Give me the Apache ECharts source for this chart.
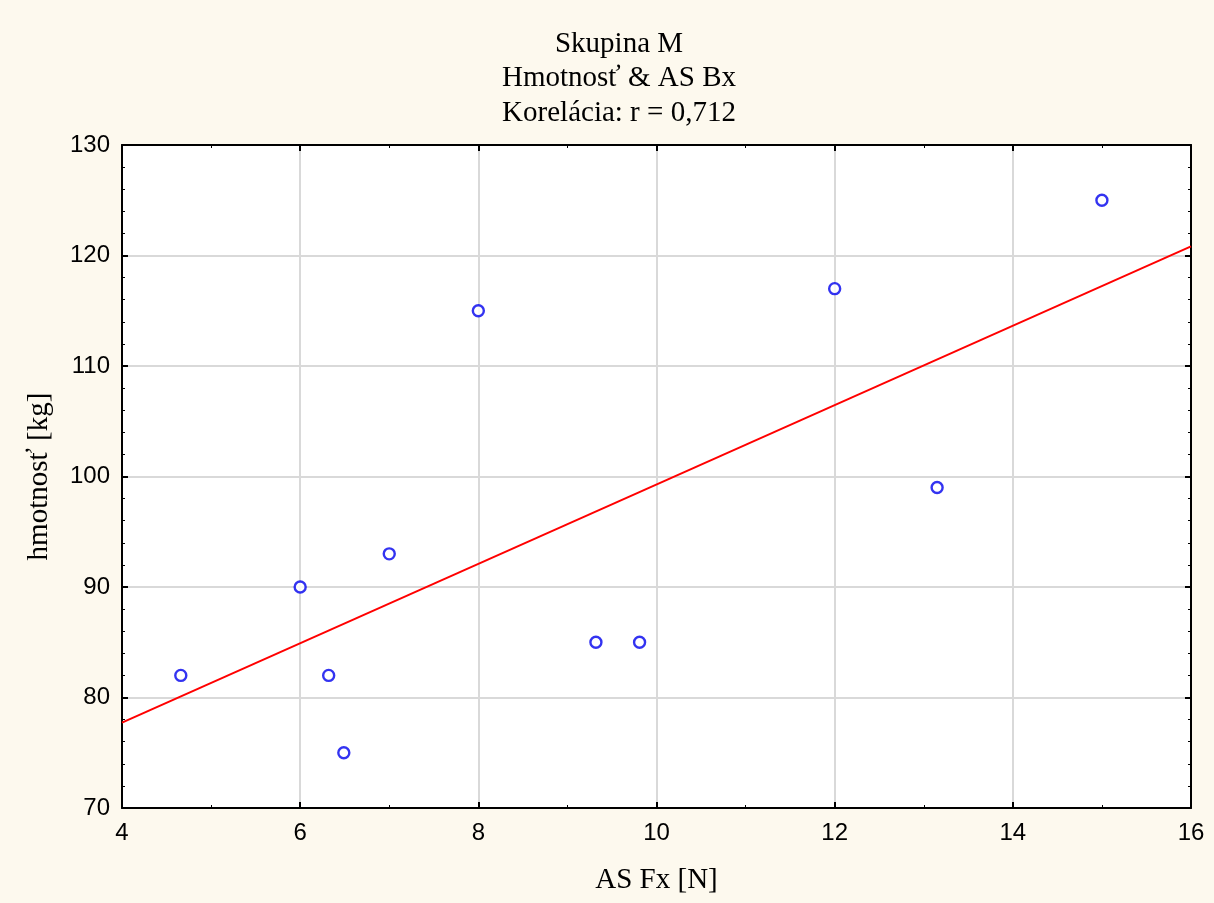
<!DOCTYPE html>
<html>
<head>
<meta charset="utf-8">
<script src="https://cdn.jsdelivr.net/npm/echarts@6/dist/echarts.min.js"></script>
<style>
html, body { margin: 0; padding: 0; background: #fdf9ee; }
#chart { width: 1214px; height: 903px; }
</style>
</head>
<body>
<div id="chart"></div>
<script>
var titleLines = ['Skupina M', 'Hmotnosť & AS Bx', 'Korelácia: r = 0,712'];
var xName = 'AS Fx [N]';
var yName = 'hmotnosť [kg]';
var asFx = [4.66, 6.0, 6.32, 6.49, 7.0, 8.0, 9.32, 9.81, 12.0, 13.15, 15.0];
var hmotnost = [82, 90, 82, 75, 93, 115, 85, 85, 117, 99, 125];
var xRange = [4, 16];
var yRange = [70, 130];

// least squares fit drawn across the whole x range
function fitLine(xs, ys) {
	var n = xs.length, mx = 0, my = 0, sxy = 0, sxx = 0;
	for (var i = 0; i < n; i++) { mx += xs[i]; my += ys[i]; }
	mx /= n; my /= n;
	for (var j = 0; j < n; j++) {
		sxy += (xs[j] - mx) * (ys[j] - my);
		sxx += (xs[j] - mx) * (xs[j] - mx);
	}
	var b = sxy / sxx, a = my - b * mx;
	return [[xRange[0], a + b * xRange[0]], [xRange[1], a + b * xRange[1]]];
}

var points = asFx.map(function (x, i) { return [x, hmotnost[i]]; });

var myChart = echarts.init(document.getElementById('chart'));
var frameAxis = {
	show: true,
	lineStyle: { color: '#000', width: 2 }
};
var option = {
	backgroundColor: '#fdf9ee',
	animation: false,
	title: {
		text: titleLines.join('\n'),
		left: 614,
		textAlign: 'center',
		top: 22,
		textStyle: {
			fontFamily: 'Liberation Serif',
			fontWeight: 'normal',
			fontSize: 29,
			lineHeight: 34.5,
			color: '#000'
		}
	},
	grid: { left: 122, right: 23, top: 145, bottom: 95, backgroundColor: '#fff', show: true, borderWidth: 0 },
	xAxis: [{
		type: 'value', min: xRange[0], max: xRange[1], interval: 2,
		name: xName, nameLocation: 'middle', nameGap: 58,
		nameTextStyle: { fontFamily: 'Liberation Serif', fontSize: 29, color: '#000' },
		axisLine: frameAxis,
		axisTick: { inside: true, length: 6, lineStyle: { color: '#000', width: 2 } },
		minorTick: { show: true, splitNumber: 2, length: 3, lineStyle: { color: '#000', width: 1 } },
		axisLabel: { fontFamily: 'Liberation Sans', fontSize: 24, color: '#000', margin: 13 },
		splitLine: { show: true, lineStyle: { color: '#d9d9d9', width: 2 } }
	}, {
		type: 'value', position: 'top', min: xRange[0], max: xRange[1], interval: 2,
		axisLine: frameAxis,
		axisTick: { inside: true, length: 6, lineStyle: { color: '#000', width: 2 } },
		minorTick: { show: true, splitNumber: 2, length: 3, lineStyle: { color: '#000', width: 1 } },
		axisLabel: { show: false },
		splitLine: { show: false }
	}],
	yAxis: [{
		type: 'value', min: yRange[0], max: yRange[1], interval: 10,
		name: yName, nameLocation: 'middle', nameGap: 68, nameRotate: 90,
		nameTextStyle: { fontFamily: 'Liberation Serif', fontSize: 29, color: '#000' },
		axisLine: frameAxis,
		axisTick: { inside: true, length: 6, lineStyle: { color: '#000', width: 2 } },
		minorTick: { show: true, splitNumber: 5, length: 3, lineStyle: { color: '#000', width: 1 } },
		axisLabel: { fontFamily: 'Liberation Sans', fontSize: 24, color: '#000', margin: 12 },
		splitLine: { show: true, lineStyle: { color: '#d9d9d9', width: 2 } }
	}, {
		type: 'value', position: 'right', min: yRange[0], max: yRange[1], interval: 10,
		axisLine: frameAxis,
		axisTick: { inside: true, length: 6, lineStyle: { color: '#000', width: 2 } },
		minorTick: { show: true, splitNumber: 5, length: 3, lineStyle: { color: '#000', width: 1 } },
		axisLabel: { show: false },
		splitLine: { show: false }
	}],
	series: [{
		type: 'line',
		data: fitLine(asFx, hmotnost),
		symbol: 'none',
		lineStyle: { color: '#ff0000', width: 2 },
		z: 3
	}, {
		type: 'scatter',
		data: points,
		symbol: 'circle',
		symbolSize: 11,
		itemStyle: { color: '#fff', borderColor: '#0000ee', borderWidth: 2.4 },
		z: 4
	}]
};
myChart.setOption(option);
</script>
</body>
</html>
